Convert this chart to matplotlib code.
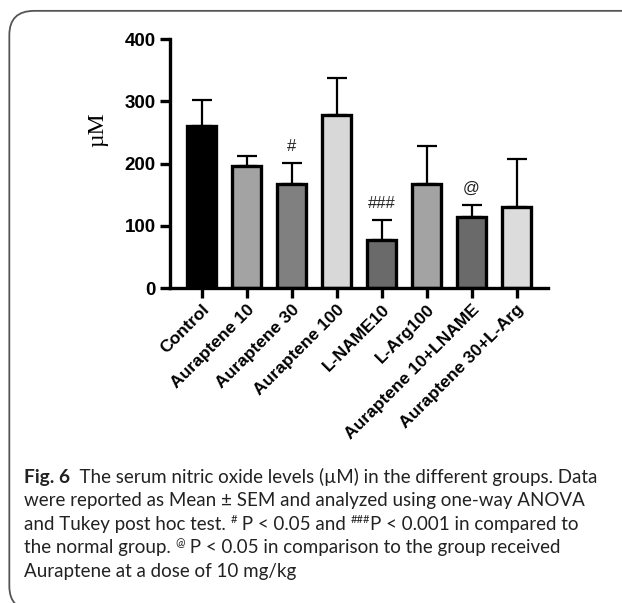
import numpy as np
import matplotlib
matplotlib.use('Agg')
import matplotlib.pyplot as plt
from matplotlib.patches import FancyBboxPatch

# Data (serum nitric oxide, uM)
groups = ['Control', 'Auraptene 10', 'Auraptene 30', 'Auraptene 100', 'L-NAME10',
          'L-Arg100', 'Auraptene 10+LNAME', 'Auraptene 30+L-Arg']
means = [260, 197, 167, 278, 78, 167, 115, 131]
sem = [43, 16, 34, 59, 32, 61, 19, 76]
marks = ['', '', '#', '', '###', '', '@', '']
colors = ['#000000', '#a3a3a3', '#808080', '#d8d8d8', '#6a6a6a', '#a3a3a3', '#6a6a6a', '#dcdcdc']
yticks = [0, 100, 200, 300, 400]

# caption pieces: (text, style) with style 'b' bold, 'n' normal, 's' superscript
caption_lines = [
    [('Fig. 6', 'b'), ('  The serum nitric oxide levels (µM) in the different groups. Data', 'n')],
    [('were reported as Mean \u00b1 SEM and analyzed using one-way ANOVA', 'n')],
    [('and Tukey post hoc test. ', 'n'), ('#', 's'), (' P < 0.05 and ', 'n'), ('###', 's'),
     ('P < 0.001 in compared to', 'n')],
    [('the normal group. ', 'n'), ('@', 's'), (' P < 0.05 in comparison to the group received', 'n')],
    [('Auraptene at a dose of 10 mg/kg', 'n')],
]

fig = plt.figure(figsize=(6.22, 6.03), dpi=100)
ax = fig.add_axes([0.273, 0.522, 0.608, 0.413])

x = np.arange(len(groups))
ax.bar(x, means, width=0.65, color=colors, edgecolor='black', linewidth=2.4, zorder=2)
ax.errorbar(x, means, yerr=[np.zeros(len(sem)), sem], fmt='none', ecolor='black',
            elinewidth=1.6, capsize=7, capthick=1.6, zorder=1)
for xi, m, s, t in zip(x, means, sem, marks):
    if t:
        ax.text(xi, m + s + 14, t, ha='center', va='bottom', fontsize=12,
                family='Liberation Sans', color='#222222')

ax.set_xlim(-0.71, 7.7)
ax.set_ylim(0, 400)
ax.set_yticks(yticks)
ax.set_xticks(x)
ax.set_xticklabels(groups, rotation=45, ha='right', rotation_mode='anchor',
                   fontsize=12.6, fontweight='bold', family='Liberation Sans')
for lab in ax.get_yticklabels():
    lab.set_fontsize(13.5)
    lab.set_fontweight('bold')
    lab.set_family('Liberation Sans')
ax.set_ylabel('µM', family='Liberation Serif', fontsize=17)
ax.yaxis.set_label_coords(-0.164, 0.635)
for side in ['top', 'right']:
    ax.spines[side].set_visible(False)
for side in ['left', 'bottom']:
    ax.spines[side].set_linewidth(2.4)
ax.tick_params(axis='both', direction='out', length=7, width=2.4, pad=3)

# rounded frame around figure panel
frame = FancyBboxPatch((0.015, -0.012), 1.2, 0.994, boxstyle='round,pad=0,rounding_size=0.04',
                       transform=fig.transFigure, facecolor='none', edgecolor='#555555',
                       linewidth=1.3)
fig.patches.append(frame)

# caption, drawn piece by piece
renderer = fig.canvas.get_renderer()
cap_size = 13.5
W, H = fig.bbox.width, fig.bbox.height
y0 = 603 - 483
for i, line in enumerate(caption_lines):
    xpos = 24.0
    ypos = y0 - i * 23.4
    for txt, style in line:
        kw = dict(family='Lato', color='#222222', ha='left', va='baseline')
        if style == 'b':
            t = fig.text(xpos / W, ypos / H, txt, fontsize=cap_size + 0.3, fontweight='bold', **kw)
        elif style == 's':
            t = fig.text(xpos / W, (ypos + 7) / H, txt, fontsize=cap_size * 0.6, **kw)
        else:
            t = fig.text(xpos / W, ypos / H, txt, fontsize=cap_size, **kw)
        xpos = t.get_window_extent(renderer).x1

plt.savefig('out.png', dpi=100)
